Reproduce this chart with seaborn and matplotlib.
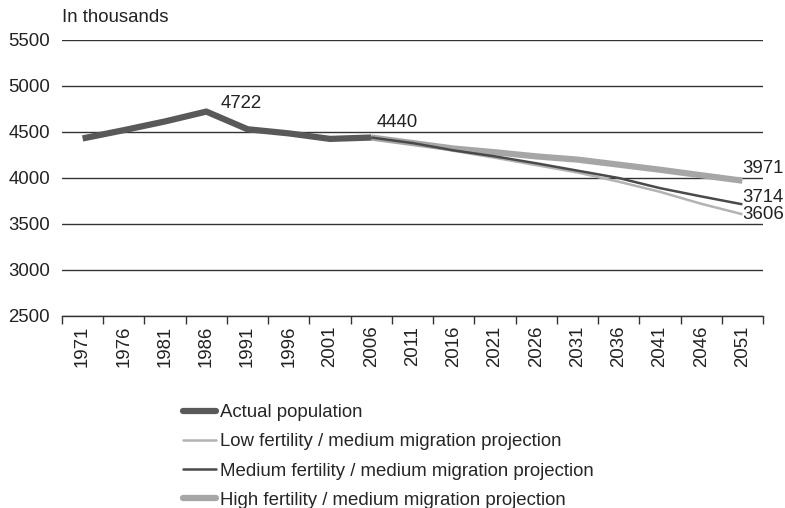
import matplotlib
matplotlib.use("Agg")
import matplotlib.pyplot as plt
import seaborn as sns
import pandas as pd
import numpy as np
from matplotlib.lines import Line2D

years = ["1971", "1976", "1981", "1986", "1991", "1996", "2001", "2006", "2011",
         "2016", "2021", "2026", "2031", "2036", "2041", "2046", "2051"]
actual_years = ["1971", "1976", "1981", "1986", "1991", "1996", "2001", "2006"]
actual = [4430, 4520, 4615, 4722, 4530, 4485, 4425, 4440]
proj_years = ["2006", "2011", "2016", "2021", "2026", "2031", "2036", "2041", "2046", "2051"]
low = [4440, 4380, 4295, 4220, 4140, 4060, 3960, 3850, 3720, 3606]
medium = [4440, 4380, 4300, 4235, 4160, 4080, 4000, 3890, 3800, 3714]
high = [4440, 4380, 4320, 4280, 4235, 4200, 4145, 4090, 4030, 3971]

labels = ["Actual population",
          "Low fertility / medium migration projection",
          "Medium fertility / medium migration projection",
          "High fertility / medium migration projection"]
colors = ["#595959", "#b3b3b3", "#4a4a4a", "#a6a6a6"]
widths = [4.5, 1.8, 1.8, 4.5]
FS = 13.4

sns.set_theme(style="white")
plt.rcParams['font.family'] = ['Liberation Sans', 'DejaVu Sans']

fig = plt.figure(figsize=(7.85, 5.08), dpi=100)
ax = fig.add_axes([62/785, 1-316/508, (763-62)/785, (316-40)/508])

pos = {y: i for i, y in enumerate(years)}
df_a = pd.DataFrame({"x": [pos[y] for y in actual_years], "v": actual})
series = [(df_a, 0)]
for k, vals in zip([1, 2, 3], [low, medium, high]):
    series.append((pd.DataFrame({"x": [pos[y] for y in proj_years], "v": vals}), k))

for d, k in [series[3], series[1], series[2], series[0]]:
    sns.lineplot(data=d, x="x", y="v", ax=ax, color=colors[k], linewidth=widths[k],
                 solid_capstyle="butt", zorder=3 + (k == 0))

ax.set_xlim(-0.5, len(years) - 0.5)
ax.set_ylim(2500, 5500)
ax.set_yticks(np.arange(2500, 5501, 500))
ax.set_yticklabels([str(v) for v in range(2500, 5501, 500)], fontsize=FS, color="#222222")
ax.set_xticks(range(len(years)))
ax.set_xticklabels(years, rotation=90, fontsize=FS, color="#222222")
ax.set_xticks(np.arange(-0.5, len(years), 1), minor=True)
ax.tick_params(axis="x", which="major", length=0, pad=7)
ax.tick_params(axis="x", which="minor", length=6, width=1, color="#333333", direction="out", bottom=True)
ax.tick_params(axis="y", length=0, pad=8.5)
ax.set_xlabel("")
ax.set_ylabel("")
ax.grid(axis="y", color="#333333", linewidth=1)
ax.grid(axis="x", visible=False)
for s in ["top", "left", "right"]:
    ax.spines[s].set_visible(False)
ax.spines["bottom"].set_color("#333333")
ax.spines["bottom"].set_linewidth(1)

fig.text(62/785, 1-18/508, "In thousands", fontsize=FS, va="center", ha="left", color="#222222")

ax.annotate(f"{actual[3]}", xy=(pos["1986"], actual[3]), xytext=(10, 6),
            textcoords="offset points", fontsize=FS, color="#222222", va="center")
ax.annotate(f"{actual[-1]}", xy=(pos["2006"], actual[-1]), xytext=(4, 11),
            textcoords="offset points", fontsize=FS, color="#222222", va="center")
ax.annotate(f"{high[-1]}", xy=(pos["2051"], high[-1]), xytext=(0, 9),
            textcoords="offset points", fontsize=FS, color="#222222", va="center")
ax.annotate(f"{medium[-1]}", xy=(pos["2051"], medium[-1]), xytext=(0, 5),
            textcoords="offset points", fontsize=FS, color="#222222", va="center")
ax.annotate(f"{low[-1]}", xy=(pos["2051"], low[-1]), xytext=(0, 0),
            textcoords="offset points", fontsize=FS, color="#222222", va="center")

handles = [Line2D([0], [0], color=colors[k], linewidth=widths[k]) for k in range(4)]
fig.legend(handles, labels, loc="upper left", bbox_to_anchor=(183/785, 1-404/508),
           frameon=False, fontsize=FS, handlelength=1.75, handletextpad=0.25,
           labelspacing=0.66, borderaxespad=0, borderpad=0)

fig.savefig("out.png", dpi=100)
